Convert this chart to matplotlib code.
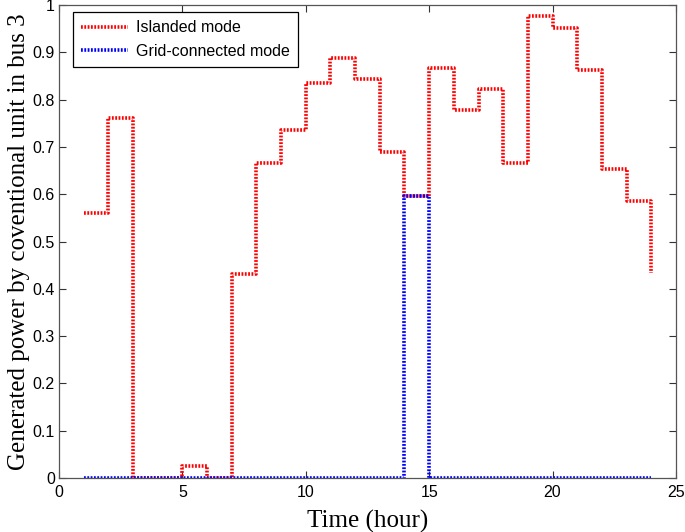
import matplotlib
matplotlib.use("Agg")
import matplotlib.pyplot as plt
import numpy as np

hours = list(range(1, 25))
islanded = [0.561, 0.762, 0.0, 0.0, 0.025, 0.0, 0.432, 0.665, 0.736, 0.835,
            0.888, 0.844, 0.690, 0.597, 0.867, 0.778, 0.823, 0.667, 0.977, 0.951,
            0.863, 0.654, 0.586, 0.434]
grid = [0.0] * 13 + [0.597] + [0.0] * 10

xticks = [0, 5, 10, 15, 20, 25]
yticks = [0, 0.1, 0.2, 0.3, 0.4, 0.5, 0.6, 0.7, 0.8, 0.9, 1]
yticklabels = ["0", "0.1", "0.2", "0.3", "0.4", "0.5", "0.6", "0.7", "0.8", "0.9", "1"]

fig = plt.figure(figsize=(6.85, 5.32), dpi=100)
ax = fig.add_axes([0.0861, 0.1015, 0.9007, 0.889])

# steps: value of hour i holds over [i, i+1); last point drawn as a drop at 24
def stairs(x, y):
    xs = [x[0]]
    ys = [y[0]]
    for i in range(1, len(x)):
        xs += [x[i], x[i]]
        ys += [y[i - 1], y[i]]
    return xs, ys

xi, yi = stairs(hours, islanded)
xg, yg = stairs(hours, grid)
ax.plot(xi, yi, color=(1, 0, 0), lw=2.6, linestyle=(0, (0.5, 0.42)),
        dash_capstyle="butt", label="Islanded mode")
ax.plot(xg, yg, color=(0, 0, 1), lw=2.6, linestyle=(0, (0.5, 0.42)),
        dash_capstyle="butt", label="Grid-connected mode")

ax.set_xlim(0, 25)
ax.set_ylim(0, 1)
ax.set_xticks(xticks)
ax.set_yticks(yticks)
ax.set_yticklabels(yticklabels)
ax.tick_params(direction="in", top=True, right=True, length=5, width=0.8,
               labelsize=11.5, colors="#333333", labelcolor="black", pad=3)
ax.tick_params(axis="x", pad=5)
for lbl in ax.get_xticklabels() + ax.get_yticklabels():
    lbl.set_family("Liberation Sans")
for s in ax.spines.values():
    s.set_color("#555555")
    s.set_linewidth(0.9)

ax.set_xlabel("Time (hour)", family="Liberation Serif", fontsize=18, labelpad=7)
ax.set_ylabel("Generated power by coventional unit in bus 3", family="Liberation Serif",
              fontsize=18, labelpad=2)

leg = ax.legend(loc="upper left", bbox_to_anchor=(0.022, 0.985), fancybox=False,
                edgecolor="black", framealpha=1, prop={"family": "Liberation Sans", "size": 11.5},
                handlelength=3.0, handletextpad=0.5, borderpad=0.5, labelspacing=0.55,
                borderaxespad=0)
leg.get_frame().set_linewidth(0.9)

fig.savefig("out.png", dpi=100)
